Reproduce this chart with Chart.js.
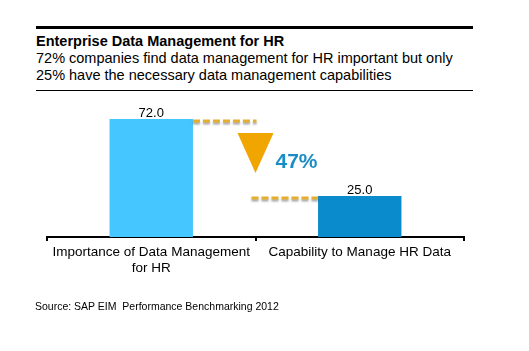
<!DOCTYPE html>
<html>
<head>
<meta charset="utf-8">
<script src="https://cdn.jsdelivr.net/npm/chart.js@4/dist/chart.umd.min.js"></script>
<style>
  body { margin:0; background:#fff; font-family:"Liberation Sans", Arial, sans-serif; }
  #wrap { position:relative; width:529px; height:351px; overflow:hidden; }
  #topline { position:absolute; left:36px; top:26px; width:437px; height:3px; background:#000; }
  #title { position:absolute; left:36px; top:33px; font-size:14.5px; font-weight:bold; color:#000; }
  #sub { position:absolute; left:36px; top:50px; font-size:14.5px; line-height:17px; color:#000; }
  #subline { position:absolute; left:36px; top:90px; width:437px; height:1px; background:#000; }
  #source { position:absolute; left:35px; top:300px; font-size:10.5px; color:#000; }
  #c { position:absolute; left:0; top:0; }
</style>
</head>
<body>
<div id="wrap">
  <div id="topline"></div>
  <div id="title">Enterprise Data Management for HR</div>
  <div id="sub">72% companies find data management for HR important but only<br>25% have the necessary data management capabilities</div>
  <div id="subline"></div>
  <canvas id="c" width="529" height="351"></canvas>
  <div id="source">Source: SAP EIM&nbsp; Performance Benchmarking 2012</div>
</div>
<script>
var categories = [['Importance of Data Management', 'for HR'], 'Capability to Manage HR Data']
var values = [72.0, 25.0]
var barColors = ['#45C6FF', '#0A8BCB']

// value labels, dashed connectors, triangle and gap text
var annotate = {
  id: 'annotate',
  afterDatasetsDraw: function(chart) {
    var ctx = chart.ctx
    var meta = chart.getDatasetMeta(0)
    var y = chart.scales.y
    var b1 = meta.data[0], b2 = meta.data[1]
    var y1 = y.getPixelForValue(values[0])
    var y2 = y.getPixelForValue(values[1])
    var mid = chart.scales.x.getPixelForTick(0) + (b2.x - b1.x) / 2

    ctx.save()
    ctx.font = '13px "Liberation Sans", Arial, sans-serif'
    ctx.fillStyle = '#000'
    ctx.textAlign = 'center'
    ctx.textBaseline = 'alphabetic'
    meta.data.forEach(function(bar, i) {
      ctx.fillText(values[i].toFixed(1), bar.x, bar.y - 2)
    })

    // dashed lines with a soft shadow
    ctx.setLineDash([7, 3])
    ctx.lineWidth = 3
    ctx.shadowColor = 'rgba(0,0,0,0.35)'
    ctx.shadowOffsetY = 2
    ctx.shadowBlur = 2
    ctx.strokeStyle = '#E4AE2E'
    ctx.beginPath()
    ctx.moveTo(b1.x + b1.width / 2, y1 + 2)
    ctx.lineTo(mid + 1, y1 + 2)
    ctx.stroke()
    ctx.beginPath()
    ctx.moveTo(mid - 4, y2 + 2)
    ctx.lineTo(b2.x - b2.width / 2, y2 + 2)
    ctx.stroke()
    ctx.setLineDash([])
    ctx.shadowColor = 'transparent'

    // down triangle
    var top = y1 + (y2 - y1) * 0.18
    var tip = y1 + (y2 - y1) * 0.70
    ctx.fillStyle = '#F0A500'
    ctx.beginPath()
    ctx.moveTo(mid - 18, top)
    ctx.lineTo(mid + 18, top)
    ctx.lineTo(mid, tip)
    ctx.closePath()
    ctx.fill()

    ctx.fillStyle = '#1B8DC6'
    ctx.font = 'bold 21px "Liberation Sans", Arial, sans-serif'
    ctx.textAlign = 'left'
    ctx.textBaseline = 'middle'
    ctx.fillText(Math.round(values[0] - values[1]) + '%', mid + 20, y1 + (y2 - y1) * 0.56)
    ctx.restore()
  }
}

new Chart(document.getElementById('c'), {
  type: 'bar',
  data: {
    labels: categories,
    datasets: [{
      data: values,
      backgroundColor: barColors,
      barPercentage: 0.8,
      categoryPercentage: 0.5
    }]
  },
  options: {
    responsive: false,
    animation: false,
    layout: { padding: { left: 47, right: 65, top: 106, bottom: 71 } },
    plugins: { legend: { display: false }, tooltip: { enabled: false } },
    scales: {
      x: {
        grid: { display: true, drawOnChartArea: false, drawTicks: true, tickLength: 4, offset: true, color: '#000', lineWidth: 2 },
        border: { color: '#000', width: 2 },
        ticks: { color: '#000', padding: 4, font: { family: '"Liberation Sans", Arial, sans-serif', size: 13.5, lineHeight: 1.15 }, maxRotation: 0 }
      },
      y: {
        display: false,
        min: 0,
        max: 80
      }
    }
  },
  plugins: [annotate]
})
</script>
</body>
</html>
